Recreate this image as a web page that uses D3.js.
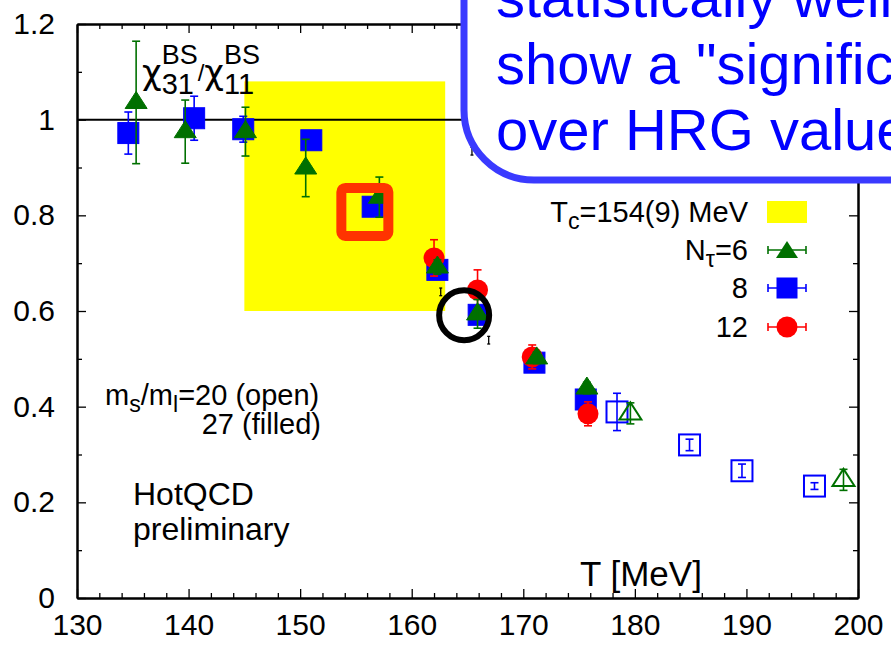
<!DOCTYPE html>
<html>
<head>
<meta charset="utf-8">
<script src="https://cdn.jsdelivr.net/npm/d3@7"></script>
<style>
  html, body { margin: 0; padding: 0; background: #fff; overflow: hidden; }
  svg { display: block; font-family: "Liberation Sans", Arial, Helvetica, sans-serif; }
</style>
</head>
<body>
<svg id="chart" width="891" height="645"></svg>
<script>
// ---- data -------------------------------------------------------------
// N_tau = 6, m_s/m_l = 27 (filled triangles)
const nt6T = [135.3, 139.7, 145.1, 150.5, 157.1, 162.3, 165.9, 171.2, 175.7];
const nt6V = [1.036, 0.975, 0.975, 0.899, 0.838, 0.692, 0.594, 0.502, 0.439];
const nt6E = [0.128, 0.066, 0.051, 0.060, 0.042, 0.015, 0.030, 0.012, 0.012];
// N_tau = 8, m_s/m_l = 27 (filled squares)
const nt8T = [134.6, 140.5, 144.9, 151.0, 156.5, 162.3, 166.0, 171.0, 175.6];
const nt8V = [0.972, 1.003, 0.980, 0.957, 0.818, 0.686, 0.592, 0.492, 0.415];
const nt8E = [0.044, 0.046, 0.027, 0.012, 0.012, 0.012, 0.012, 0.010, 0.012];
// N_tau = 12, m_s/m_l = 27 (filled circles)
const nt12T = [162.0, 165.9, 170.8, 175.8];
const nt12V = [0.711, 0.644, 0.504, 0.385];
const nt12E = [0.038, 0.042, 0.025, 0.025];
// m_s/m_l = 20 (open symbols)
const open8T = [178.4, 184.9, 189.6, 196.1];
const open8V = [0.389, 0.320, 0.266, 0.234];
const open8E = [0.039, 0.012, 0.014, 0.007];
const open6T = [179.6, 198.7];
const open6V = [0.386, 0.247];
const open6E = [0.022, 0.022];
// bare error bars without a symbol
const bareT = [162.6, 166.9, 165.4];
const bareV = [0.640, 0.539, 0.934];
const bareE = [0.008, 0.008, 0.008];

// T_c band and reference line
const tcCenter = 154, tcErr = 9;
const bandLow = 0.6, bandHigh = 1.08;
const hrgValue = 1.0;

// highlighted points
const boxMark = { T: 155.8, v: 0.807 };
const ringMark = { T: 164.7, v: 0.591 };

// axes
const xMajor = [130, 140, 150, 160, 170, 180, 190, 200];
const xTickLabels = ["130", "140", "150", "160", "170", "180", "190", "200"];
const xMinor = d3.range(130, 200.1, 2).filter(v => v % 10 !== 0);
const yMajor = [0, 0.2, 0.4, 0.6, 0.8, 1.0, 1.2];
const yTickLabels = ["0", "0.2", "0.4", "0.6", "0.8", "1", "1.2"];
const yMinor = [0.1, 0.3, 0.5, 0.7, 0.9, 1.1];

const calloutLines = ["statistically well defined,", "show a \"significant\" excess", "over HRG values"];

// ---- colours ----------------------------------------------------------
const GREEN = "#007000", BLUE = "#0000ff", RED = "#ff0000", YELLOW = "#ffff00";

// ---- layout -----------------------------------------------------------
const L = 77, R = 858, T = 24, B = 598;
const FS = 29, TICK_FS = 30;

const svg = d3.select("#chart");
const x = d3.scaleLinear().domain([130, 200]).range([L, R]);
const y = d3.scaleLinear().domain([0, 1.2]).range([B, T]);

// yellow T_c band
svg.append("rect")
  .attr("x", x(tcCenter - tcErr)).attr("y", y(bandHigh))
  .attr("width", x(tcCenter + tcErr) - x(tcCenter - tcErr))
  .attr("height", y(bandLow) - y(bandHigh))
  .attr("fill", YELLOW);

// HRG reference line
svg.append("line")
  .attr("x1", L).attr("x2", R).attr("y1", y(hrgValue)).attr("y2", y(hrgValue))
  .attr("stroke", "#000").attr("stroke-width", 2);

// ---- axes (ticks inward, mirrored) ------------------------------------
function styleAxis(g) {
  g.selectAll("path.domain").attr("stroke", "#000").attr("stroke-width", 2);
  g.selectAll(".tick line").attr("stroke", "#000").attr("stroke-width", 1.3);
  g.selectAll("text").attr("font-size", TICK_FS).attr("fill", "#000")
    .attr("font-family", "Liberation Sans, Arial, sans-serif");
}
const xLab = d => xTickLabels[xMajor.indexOf(d)];
const yLab = d => yTickLabels[yMajor.indexOf(d)];

svg.append("g").attr("transform", `translate(0,${B})`)
  .call(d3.axisBottom(x).tickValues(xMinor).tickFormat("").tickSize(-5).tickSizeOuter(0)).call(styleAxis);
svg.append("g").attr("transform", `translate(0,${B})`)
  .call(d3.axisBottom(x).tickValues(xMajor).tickFormat(xLab).tickSize(-9).tickSizeOuter(0).tickPadding(16)).call(styleAxis);
svg.append("g").attr("transform", `translate(0,${T})`)
  .call(d3.axisTop(x).tickValues(xMinor).tickFormat("").tickSize(-5).tickSizeOuter(0)).call(styleAxis);
svg.append("g").attr("transform", `translate(0,${T})`)
  .call(d3.axisTop(x).tickValues(xMajor).tickFormat("").tickSize(-9).tickSizeOuter(0)).call(styleAxis);

svg.append("g").attr("transform", `translate(${L},0)`)
  .call(d3.axisLeft(y).tickValues(yMinor).tickFormat("").tickSize(-5).tickSizeOuter(0)).call(styleAxis);
svg.append("g").attr("transform", `translate(${L},0)`)
  .call(d3.axisLeft(y).tickValues(yMajor).tickFormat(yLab).tickSize(-9).tickSizeOuter(0).tickPadding(22)).call(styleAxis);
svg.append("g").attr("transform", `translate(${R},0)`)
  .call(d3.axisRight(y).tickValues(yMinor).tickFormat("").tickSize(-5).tickSizeOuter(0)).call(styleAxis);
svg.append("g").attr("transform", `translate(${R},0)`)
  .call(d3.axisRight(y).tickValues(yMajor).tickFormat("").tickSize(-9).tickSizeOuter(0)).call(styleAxis);

// ---- marker helpers ---------------------------------------------------
const zip = (ts, vs, es) => ts.map((t, i) => ({ T: t, v: vs[i], e: es[i] }));

function errorBars(data, color, cap = 4, width = 1.6) {
  const g = svg.append("g").attr("stroke", color).attr("stroke-width", width).attr("fill", "none");
  data.forEach(d => {
    const cx = x(d.T), y1 = y(d.v + d.e), y2 = y(d.v - d.e);
    g.append("line").attr("x1", cx).attr("x2", cx).attr("y1", y1).attr("y2", y2);
    g.append("line").attr("x1", cx - cap).attr("x2", cx + cap).attr("y1", y1).attr("y2", y1);
    g.append("line").attr("x1", cx - cap).attr("x2", cx + cap).attr("y1", y2).attr("y2", y2);
  });
}
function trianglePath(cx, cy, s) {
  return `M${cx},${cy - 1.0 * s}L${cx - s},${cy + 0.55 * s}L${cx + s},${cy + 0.55 * s}Z`;
}
function squares(data, color, filled, half = 10.5) {
  svg.append("g").selectAll("rect").data(data).join("rect")
    .attr("x", d => x(d.T) - half).attr("y", d => y(d.v) - half)
    .attr("width", 2 * half).attr("height", 2 * half)
    .attr("fill", filled ? color : "none").attr("stroke", color).attr("stroke-width", filled ? 1 : 2);
}
function circles(data, color, r = 10.5) {
  svg.append("g").selectAll("circle").data(data).join("circle")
    .attr("cx", d => x(d.T)).attr("cy", d => y(d.v)).attr("r", r).attr("fill", color);
}
function triangles(data, color, filled, s = 11) {
  svg.append("g").selectAll("path").data(data).join("path")
    .attr("d", d => trianglePath(x(d.T), y(d.v), s))
    .attr("fill", filled ? color : "none").attr("stroke", color).attr("stroke-width", filled ? 1 : 2)
    .attr("stroke-linejoin", "miter");
}

// ---- data series ------------------------------------------------------
const d6 = zip(nt6T, nt6V, nt6E), d8 = zip(nt8T, nt8V, nt8E), d12 = zip(nt12T, nt12V, nt12E);
const o8 = zip(open8T, open8V, open8E), o6 = zip(open6T, open6V, open6E);
const bare = zip(bareT, bareV, bareE);

errorBars(bare, "#000", 1.5, 1.3);

squares(d8, BLUE, true);
errorBars(d8, BLUE);
squares(o8, BLUE, false, 10.5);
errorBars(o8, BLUE);

circles(d12, RED);
errorBars(d12, RED);

triangles(d6, GREEN, true);
errorBars(d6, GREEN);
triangles(o6, GREEN, false, 11);
errorBars(o6, GREEN);

// ---- highlight marks --------------------------------------------------
svg.append("rect")
  .attr("x", x(boxMark.T) - 23.5).attr("y", y(boxMark.v) - 24)
  .attr("width", 47).attr("height", 48).attr("rx", 4)
  .attr("fill", "none").attr("stroke", "#ff3300").attr("stroke-width", 10);
svg.append("circle")
  .attr("cx", x(ringMark.T)).attr("cy", y(ringMark.v)).attr("r", 25)
  .attr("fill", "none").attr("stroke", "#000").attr("stroke-width", 6);

// ---- key --------------------------------------------------------------
const keyTextX = 748, keySymX = 787;
const keyRows = [212, 250, 288, 327];
const key = svg.append("g").attr("font-size", FS).attr("text-anchor", "end");

const tcText = key.append("text").attr("x", keyTextX).attr("y", keyRows[0]).attr("dy", "0.35em");
tcText.append("tspan").text("T");
tcText.append("tspan").attr("font-size", FS * 0.8).attr("dy", 7).text("c");
tcText.append("tspan").attr("dy", -7).text(`=${tcCenter}(${tcErr}) MeV`);
svg.append("rect").attr("x", keySymX - 20).attr("y", keyRows[0] - 11).attr("width", 40).attr("height", 22).attr("fill", YELLOW);

const ntText = key.append("text").attr("x", keyTextX).attr("y", keyRows[1]).attr("dy", "0.35em");
ntText.append("tspan").text("N");
ntText.append("tspan").attr("font-size", FS * 0.8).attr("dy", 7).text("τ");
ntText.append("tspan").attr("dy", -7).text("=6");
key.append("text").attr("x", keyTextX).attr("y", keyRows[2]).attr("dy", "0.35em").text("8");
key.append("text").attr("x", keyTextX).attr("y", keyRows[3]).attr("dy", "0.35em").text("12");

function keyBar(cy, color) {
  const g = svg.append("g").attr("stroke", color).attr("stroke-width", 1.6);
  g.append("line").attr("x1", keySymX - 19).attr("x2", keySymX + 19).attr("y1", cy).attr("y2", cy);
  g.append("line").attr("x1", keySymX - 19).attr("x2", keySymX - 19).attr("y1", cy - 4).attr("y2", cy + 4);
  g.append("line").attr("x1", keySymX + 19).attr("x2", keySymX + 19).attr("y1", cy - 4).attr("y2", cy + 4);
}
keyBar(keyRows[1], GREEN);
svg.append("path").attr("d", trianglePath(keySymX, keyRows[1] + 2, 11)).attr("fill", GREEN);
keyBar(keyRows[2], BLUE);
svg.append("rect").attr("x", keySymX - 10.5).attr("y", keyRows[2] - 10.5).attr("width", 21).attr("height", 21).attr("fill", BLUE);
keyBar(keyRows[3], RED);
svg.append("circle").attr("cx", keySymX).attr("cy", keyRows[3]).attr("r", 10.5).attr("fill", RED);

// ---- observable label -------------------------------------------------
(function () {
  const g = svg.append("g").attr("fill", "#000");
  const greek = "DejaVu Sans, Liberation Sans, sans-serif";
  let cx = 142;
  const chi1 = g.append("text").attr("x", cx).attr("y", 84).attr("font-size", 34)
    .attr("font-family", greek).text("χ");
  cx += chi1.node().getComputedTextLength();
  const sup1 = g.append("text").attr("x", cx).attr("y", 64).attr("font-size", 27).text("BS");
  const sub1 = g.append("text").attr("x", cx).attr("y", 94).attr("font-size", 29).text("31");
  cx += Math.max(sup1.node().getComputedTextLength(), sub1.node().getComputedTextLength());
  const sl = g.append("text").attr("x", cx).attr("y", 81).attr("font-size", 24).text("/");
  cx += sl.node().getComputedTextLength();
  const chi2 = g.append("text").attr("x", cx).attr("y", 84).attr("font-size", 34)
    .attr("font-family", greek).text("χ");
  cx += chi2.node().getComputedTextLength();
  g.append("text").attr("x", cx).attr("y", 64).attr("font-size", 27).text("BS");
  g.append("text").attr("x", cx).attr("y", 94).attr("font-size", 29).text("11");
})();

// ---- annotations ------------------------------------------------------
const ms = svg.append("text").attr("x", 105).attr("y", 405).attr("font-size", FS);
ms.append("tspan").text("m");
ms.append("tspan").attr("font-size", FS * 0.8).attr("dy", 7).text("s");
ms.append("tspan").attr("dy", -7).text("/m");
ms.append("tspan").attr("font-size", FS * 0.8).attr("dy", 7).text("l");
ms.append("tspan").attr("dy", -7).text("=20 (open)");
svg.append("text").attr("x", 321).attr("y", 434).attr("font-size", FS).attr("text-anchor", "end").text("27 (filled)");

svg.append("text").attr("x", 133).attr("y", 505).attr("font-size", 32).text("HotQCD");
svg.append("text").attr("x", 133).attr("y", 540).attr("font-size", 32).text("preliminary");

svg.append("text").attr("x", 580).attr("y", 586).attr("font-size", 35).text("T [MeV]");

// ---- call-out box -----------------------------------------------------
svg.append("rect")
  .attr("x", 464).attr("y", -120).attr("width", 700).attr("height", 300).attr("rx", 70)
  .attr("fill", "#fff").attr("stroke", "#3a3aff").attr("stroke-width", 7);
const co = svg.append("text").attr("font-size", 58).attr("fill", BLUE);
calloutLines.forEach((s, i) => {
  co.append("tspan").attr("x", 496).attr("y", 17 + i * 66.5).text(s);
});
</script>
</body>
</html>
